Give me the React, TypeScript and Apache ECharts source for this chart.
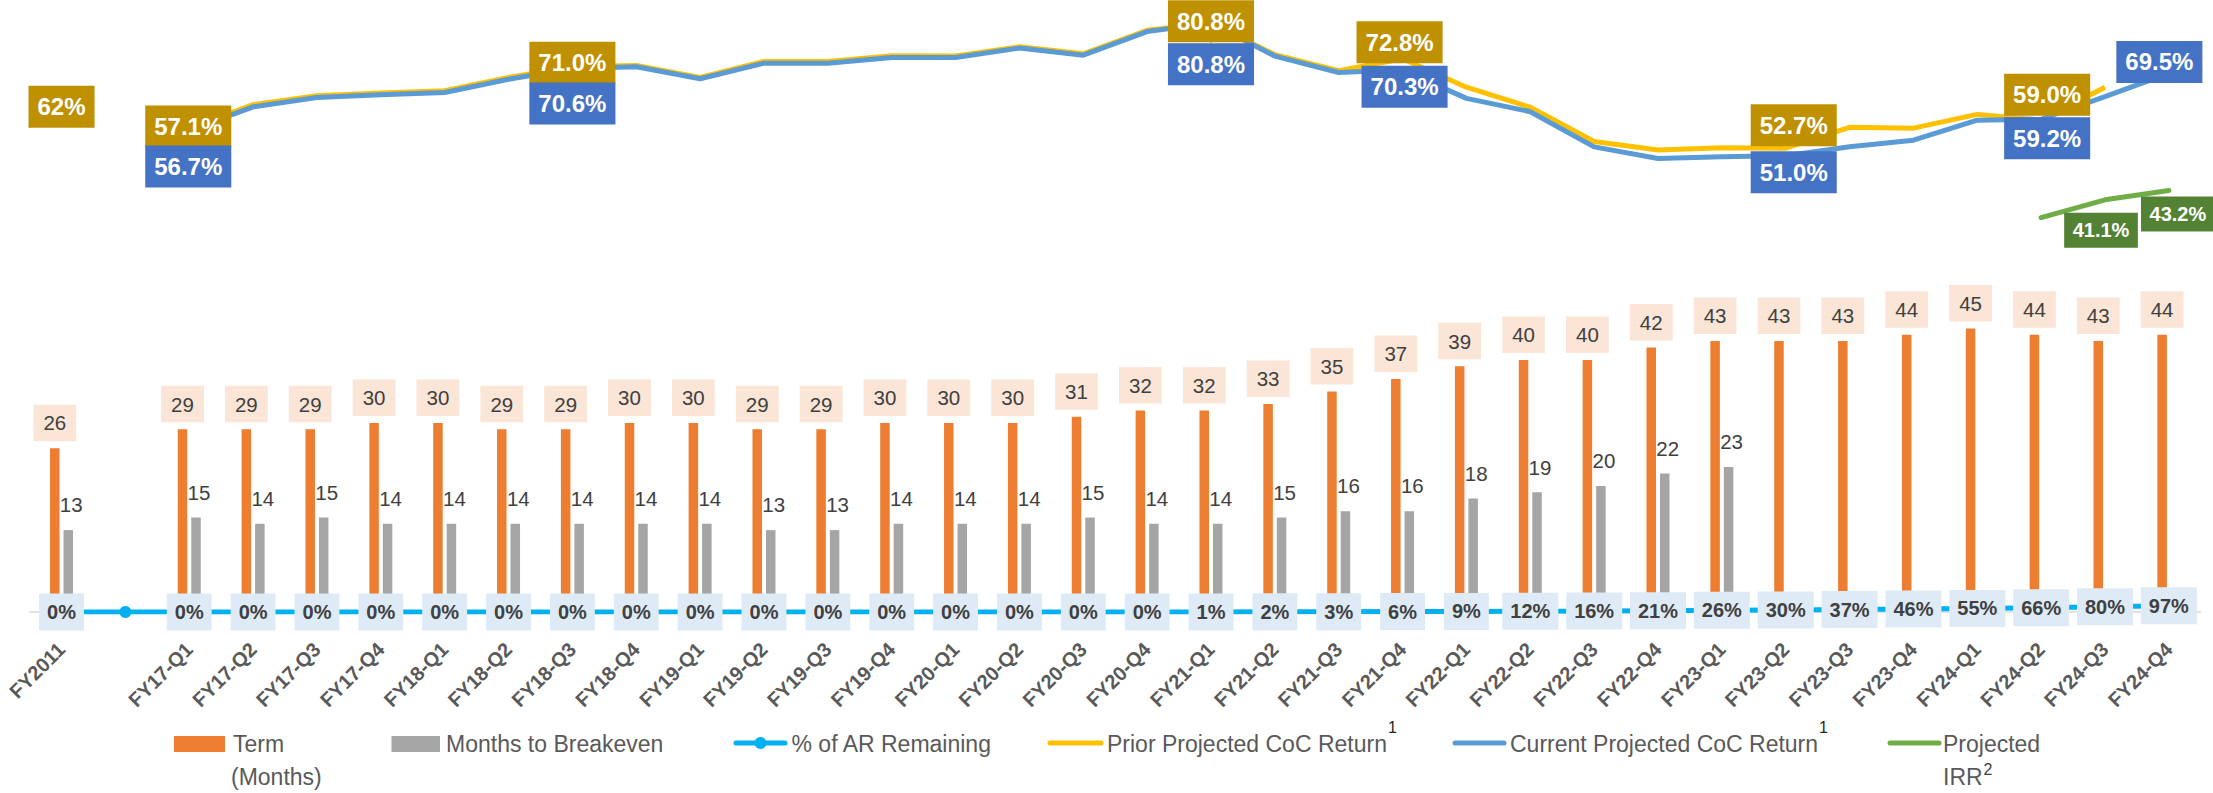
import React, { useEffect, useRef } from 'react';
import * as echarts from 'echarts';

// ---------------- DATA ----------------
const categories = [
  'FY2011', '',
  'FY17-Q1', 'FY17-Q2', 'FY17-Q3', 'FY17-Q4',
  'FY18-Q1', 'FY18-Q2', 'FY18-Q3', 'FY18-Q4',
  'FY19-Q1', 'FY19-Q2', 'FY19-Q3', 'FY19-Q4',
  'FY20-Q1', 'FY20-Q2', 'FY20-Q3', 'FY20-Q4',
  'FY21-Q1', 'FY21-Q2', 'FY21-Q3', 'FY21-Q4',
  'FY22-Q1', 'FY22-Q2', 'FY22-Q3', 'FY22-Q4',
  'FY23-Q1', 'FY23-Q2', 'FY23-Q3', 'FY23-Q4',
  'FY24-Q1', 'FY24-Q2', 'FY24-Q3', 'FY24-Q4',
];

const termMonths = [
  26, null,
  29, 29, 29, 30,
  30, 29, 29, 30,
  30, 29, 29, 30,
  30, 30, 31, 32,
  32, 33, 35, 37,
  39, 40, 40, 42,
  43, 43, 43, 44,
  45, 44, 43, 44,
];

const breakevenMonths = [
  13, null,
  15, 14, 15, 14,
  14, 14, 14, 14,
  14, 13, 13, 14,
  14, 14, 15, 14,
  14, 15, 16, 16,
  18, 19, 20, 22,
  23, null, null, null,
  null, null, null, null,
];

const arRemaining = [
  0, 0,
  0, 0, 0, 0,
  0, 0, 0, 0,
  0, 0, 0, 0,
  0, 0, 0, 0,
  1, 2, 3, 6,
  9, 12, 16, 21,
  26, 30, 37, 46,
  55, 66, 80, 97,
];

const priorCoC = [
  62, null,
  57.1, 62.5, 64.5, 65.1,
  65.6, 68.6, 71.0, 71.3,
  68.6, 72.2, 72.2, 73.5,
  73.4, 75.5, 73.9, 79.2,
  80.8, 73.7, 70.1, 72.8,
  66.4, 61.9, 54.2, 52.3,
  52.8, 52.7, 57.4, 57.2,
  60.3, 59.0, 66.4, null,
];

const currentCoC = [
  null, null,
  56.7, 62.0, 64.1, 64.7,
  65.2, 68.2, 70.6, 71.0,
  68.3, 71.8, 71.8, 73.1,
  73.1, 75.2, 73.6, 78.9,
  80.8, 73.4, 69.7, 70.3,
  63.9, 60.9, 53.0, 50.4,
  50.8, 51.0, 53.0, 54.5,
  59.0, 59.2, 64.3, 69.5,
];

const projectedIRR = [
  null, null,
  null, null, null, null,
  null, null, null, null,
  null, null, null, null,
  null, null, null, null,
  null, null, null, null,
  null, null, null, null,
  null, null, null, null,
  null, 37.1, 41.1, 43.2,
];

// indices whose values carry a data label
const priorLabelIdx = [0, 2, 8, 18, 21, 27, 31];
const currentLabelIdx = [2, 8, 18, 21, 27, 31, 33];
const irrLabelIdx = [32, 33];
const wholePercentIdx = [0]; // FY2011 prior value is shown without decimals
const leaderLineIdx = [18]; // current-CoC label drawn with a leader line

const legendItems = {
  term: ['Term', '(Months)'],
  breakeven: 'Months to Breakeven',
  ar: '% of AR Remaining',
  prior: 'Prior Projected CoC Return',
  current: 'Current Projected CoC Return',
  irr: ['Projected', 'IRR'],
};

// ---------------- STYLE / LAYOUT ----------------
const FONT = "'Liberation Sans', Arial, Helvetica, sans-serif";
const C_TERM = '#ED7D31';
const C_BE = '#A5A5A5';
const C_AR = '#00B0F0';
const C_PRIOR = '#FFC000';
const C_CUR = '#5B9BD5';
const C_IRR = '#70AD47';

const priorLabelOffset: Record<number, number[]> = {
  0: [0, 0], 2: [-1, -2], 8: [0, -4], 18: [0, -2], 21: [-3, -16.5], 27: [8, -23], 31: [6, -25.5],
};
const currentLabelOffset: Record<number, number[]> = {
  2: [-1, 36], 8: [0, 35], 18: [0, 41], 21: [2, 17], 27: [8, 16.5], 31: [6, 19], 33: [-9.5, -11.5],
};
const irrLabelOffset: Record<number, number[]> = {
  32: [-4, 30.5], 33: [9, 23.5],
};

function measure(text: string, size: number, weight = 'normal') {
  const c = document.createElement('canvas').getContext('2d');
  if (!c) return text.length * size * 0.5;
  c.font = `${weight} ${size}px "Liberation Sans", Arial, sans-serif`;
  return c.measureText(text).width;
}

function textEl(x: number, y: number, text: string, size = 23, fill = '#595959') {
  return {
    type: 'text',
    x,
    y,
    silent: true,
    style: {
      text,
      fill,
      fontSize: size,
      fontFamily: FONT,
      align: 'left',
      verticalAlign: 'middle',
    },
  };
}

function labelSeries(
  name: string,
  values: (number | null)[],
  idx: number[],
  offsets: Record<number, number[]>,
  bg: string,
  fontSize: number,
  padding: number[],
  withLeader: number[] = []
) {
  return {
    name,
    type: 'scatter',
    xAxisIndex: 1,
    yAxisIndex: 2,
    silent: true,
    z: 10,
    symbol: 'circle',
    symbolSize: 1,
    itemStyle: { color: 'rgba(0,0,0,0)', opacity: 1 },
    data: idx.map((i) => {
      const item: any = { value: [i, values[i]] };
      if (withLeader.indexOf(i) >= 0) {
        item.labelLine = { show: true, lineStyle: { color: '#A5A5A5', width: 1.5 } };
      }
      return item;
    }),
    labelLayout: (p: any) => {
      const off = offsets[idx[p.dataIndex]] || [0, 0];
      return { dx: off[0], dy: off[1] };
    },
    labelLine: { show: false },
    label: {
      show: true,
      position: 'inside',
      color: '#FFFFFF',
      fontWeight: 'bold',
      fontSize,
      lineHeight: fontSize,
      fontFamily: FONT,
      backgroundColor: bg,
      padding,
      formatter: (p: any) => {
        const i = idx[p.dataIndex];
        const v = Number(p.value[1]);
        return wholePercentIdx.indexOf(i) >= 0 && name.indexOf('Prior') >= 0
          ? Math.round(v) + '%'
          : v.toFixed(1) + '%';
      },
    },
  };
}

export default function App() {
  const ref = useRef<HTMLDivElement>(null);

  useEffect(() => {
    if (!ref.current) return;
    const chart = echarts.init(ref.current, undefined, { renderer: 'svg' });

    const LY = 744;
    const LY2 = 776.5;
    const priorTextX = 1107;
    const currentTextX = 1510;
    const irrTextX = 1943;

    const graphics: any[] = [
      { type: 'rect', shape: { x: 174, y: 736, width: 51, height: 16 }, style: { fill: C_TERM }, silent: true },
      textEl(233, LY, legendItems.term[0]),
      textEl(231, LY2, legendItems.term[1]),
      { type: 'rect', shape: { x: 391.5, y: 736, width: 48.5, height: 16 }, style: { fill: C_BE }, silent: true },
      textEl(446, LY, legendItems.breakeven),
      { type: 'line', shape: { x1: 736, y1: 743, x2: 785, y2: 743 }, style: { stroke: C_AR, lineWidth: 5, lineCap: 'round' }, silent: true },
      { type: 'circle', shape: { cx: 760.5, cy: 743, r: 6 }, style: { fill: C_AR }, silent: true },
      textEl(791.5, LY, legendItems.ar),
      { type: 'line', shape: { x1: 1050, y1: 743, x2: 1101, y2: 743 }, style: { stroke: C_PRIOR, lineWidth: 5, lineCap: 'round' }, silent: true },
      textEl(priorTextX, LY, legendItems.prior),
      textEl(priorTextX + measure(legendItems.prior, 23) + 1, 727.5, '1', 16, '#262626'),
      { type: 'line', shape: { x1: 1455, y1: 743, x2: 1504, y2: 743 }, style: { stroke: C_CUR, lineWidth: 5, lineCap: 'round' }, silent: true },
      textEl(currentTextX, LY, legendItems.current),
      textEl(currentTextX + measure(legendItems.current, 23) + 1, 727.5, '1', 16, '#262626'),
      { type: 'line', shape: { x1: 1890, y1: 743, x2: 1939, y2: 743 }, style: { stroke: C_IRR, lineWidth: 5, lineCap: 'round' }, silent: true },
      textEl(irrTextX, LY, legendItems.irr[0]),
      textEl(irrTextX, LY2, legendItems.irr[1]),
      textEl(irrTextX + measure(legendItems.irr[1], 23) + 1, 769, '2', 16, '#404040'),
    ];

    const option: any = {
      animation: false,
      textStyle: { fontFamily: FONT },
      grid: [
        { left: 29.6, right: 12.2, top: 108, bottom: 181 },
        { left: 29.6, right: 12.2, top: 4.45, bottom: 499.3 },
      ],
      xAxis: [
        {
          type: 'category',
          gridIndex: 0,
          data: categories,
          boundaryGap: true,
          axisLine: { show: true, lineStyle: { color: '#D9D9D9', width: 1.5 } },
          axisTick: { show: false },
          splitLine: { show: false },
          axisLabel: {
            interval: 0,
            rotate: 45,
            margin: 34,
            color: '#595959',
            fontSize: 20,
            fontWeight: 'bold',
            fontFamily: FONT,
          },
        },
        { type: 'category', gridIndex: 1, data: categories, boundaryGap: true, show: false },
      ],
      yAxis: [
        { type: 'value', gridIndex: 0, min: 0, max: 80, show: false, splitLine: { show: false } },
        { type: 'value', gridIndex: 0, min: 0, max: 7750, show: false, splitLine: { show: false } },
        { type: 'value', gridIndex: 1, min: 20, max: 85, show: false, splitLine: { show: false } },
      ],
      series: [
        {
          name: 'Term (Months)',
          type: 'bar',
          xAxisIndex: 0,
          yAxisIndex: 0,
          data: termMonths,
          barWidth: 9.5,
          barGap: '42%',
          itemStyle: { color: C_TERM },
          label: {
            show: true,
            position: 'top',
            distance: 7,
            backgroundColor: '#FBE5D6',
            padding: [8, 10, 8, 10],
            color: '#404040',
            fontSize: 20.5,
            lineHeight: 20.5,
            fontFamily: FONT,
          },
          z: 2,
        },
        {
          name: 'Months to Breakeven',
          type: 'bar',
          xAxisIndex: 0,
          yAxisIndex: 0,
          data: breakevenMonths,
          barWidth: 9.5,
          barGap: '42%',
          itemStyle: { color: C_BE },
          label: {
            show: true,
            position: 'top',
            distance: 15,
            offset: [3, 0],
            color: '#404040',
            fontSize: 20.5,
            lineHeight: 20.5,
            fontFamily: FONT,
          },
          z: 2,
        },
        {
          name: '% of AR Remaining',
          type: 'line',
          xAxisIndex: 0,
          yAxisIndex: 1,
          data: arRemaining.map((v, i) => (categories[i] === '' ? { value: v, label: { show: false } } : v)),
          symbol: 'circle',
          symbolSize: 12,
          showSymbol: true,
          showAllSymbol: true,
          lineStyle: { color: C_AR, width: 5 },
          itemStyle: { color: C_AR },
          label: {
            show: true,
            position: 'inside',
            formatter: '{c}%',
            backgroundColor: '#DEEBF7',
            color: '#404040',
            fontWeight: 'bold',
            fontSize: 20,
            lineHeight: 20,
            fontFamily: FONT,
            padding: [8.5, 8, 8.5, 8],
          },
          z: 5,
        },
        {
          name: 'Prior Projected CoC Return',
          type: 'line',
          xAxisIndex: 1,
          yAxisIndex: 2,
          data: priorCoC,
          symbol: 'none',
          lineStyle: { color: C_PRIOR, width: 5 },
          itemStyle: { color: C_PRIOR },
          z: 3,
        },
        {
          name: 'Current Projected CoC Return',
          type: 'line',
          xAxisIndex: 1,
          yAxisIndex: 2,
          data: currentCoC,
          symbol: 'none',
          lineStyle: { color: C_CUR, width: 5 },
          itemStyle: { color: C_CUR },
          z: 4,
        },
        {
          name: 'Projected IRR',
          type: 'line',
          xAxisIndex: 1,
          yAxisIndex: 2,
          data: projectedIRR,
          symbol: 'none',
          lineStyle: { color: C_IRR, width: 5, cap: 'round' },
          itemStyle: { color: C_IRR },
          z: 4,
        },
        labelSeries('Prior Projected CoC Return labels', priorCoC, priorLabelIdx, priorLabelOffset, '#BF9000', 24, [9, 9, 9, 9]),
        labelSeries('Current Projected CoC Return labels', currentCoC, currentLabelIdx, currentLabelOffset, '#4472C4', 24, [9, 9, 9, 9], leaderLineIdx),
        labelSeries('Projected IRR labels', projectedIRR, irrLabelIdx, irrLabelOffset, '#548235', 20, [7.5, 8.5, 7.5, 8.5]),
      ],
      graphic: graphics,
    };

    chart.setOption(option);
    return () => chart.dispose();
  }, []);

  return (
    <div
      ref={ref}
      style={{ position: 'fixed', left: 0, top: 0, width: 2213, height: 793, background: '#FFFFFF' }}
    />
  );
}
